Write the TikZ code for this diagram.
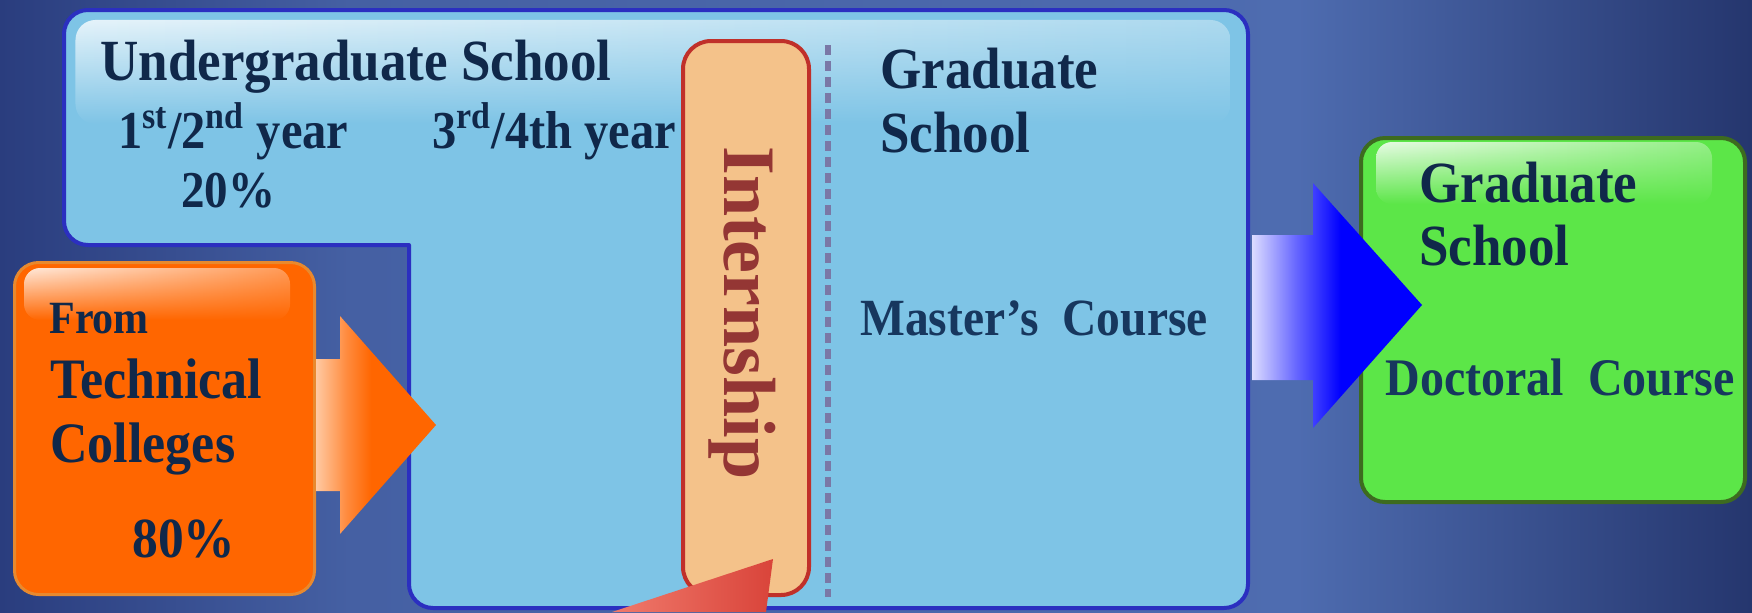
\documentclass[tikz,border=0pt]{standalone}
\usepackage{fontspec}
\setmainfont{Liberation Serif}
\usetikzlibrary{fadings}
\definecolor{bgA}{HTML}{2A3D7E}
\definecolor{bgM}{HTML}{4560A3}
\definecolor{bgB}{HTML}{4E6CB0}
\definecolor{bgD}{HTML}{25366E}
\definecolor{boxblue}{HTML}{7EC4E6}
\definecolor{boxedge}{HTML}{2B2FC0}
\definecolor{navy}{HTML}{10284A}
\definecolor{navyb}{HTML}{17375E}
\definecolor{intfill}{HTML}{F4C28A}
\definecolor{intedge}{HTML}{C0302A}
\definecolor{inttext}{HTML}{943634}
\definecolor{dashcol}{HTML}{7A78A6}
\definecolor{orfill}{HTML}{FF6600}
\definecolor{oredge}{HTML}{E8892E}
\definecolor{orlight}{HTML}{FFC9A2}
\definecolor{ormid}{HTML}{FF8A3C}
\definecolor{grfill}{HTML}{5CE648}
\definecolor{gredge}{HTML}{3D6B1F}
\definecolor{bllight}{HTML}{DCDCFF}
\definecolor{blmid}{HTML}{6666FF}
\definecolor{blfull}{HTML}{0000FF}
\definecolor{redarr}{HTML}{D9443A}
\definecolor{redlight}{HTML}{F07A6C}
\pgfdeclarehorizontalshading{bgshade}{100bp}{color(0bp)=(bgA); color(25bp)=(bgA); color(35bp)=(bgM); color(62bp)=(bgB); color(75bp)=(bgD); color(100bp)=(bgD)}
\pgfdeclarehorizontalshading{orarrow}{100bp}{color(0bp)=(orlight); color(25bp)=(orlight); color(38bp)=(ormid); color(48bp)=(orfill); color(100bp)=(orfill)}
\pgfdeclarehorizontalshading{blarrow}{100bp}{color(0bp)=(bllight); color(25bp)=(bllight); color(38bp)=(blmid); color(51bp)=(blfull); color(100bp)=(blfull)}
\tikzfading[name=glossfade, top color=transparent!0, bottom color=transparent!100]
\newcommand\fsz[1]{\fontsize{#1}{#1}\selectfont\bfseries}
\tikzset{
  txt/.style={anchor=base west, inner sep=0pt, text=navy, yscale=1.1},
  gloss/.style={path fading=glossfade},
  roundbox/.style={inner sep=0pt, rounded corners=12pt},
}
\begin{document}
\begin{tikzpicture}[x=0.5pt,y=-0.5pt]
\useasboundingbox (0,0) rectangle (1752,612);
\shade[shading=bgshade] (0,0) rectangle (1752,612);

% L-shaped blue school block
\filldraw[fill=boxblue, draw=boxedge, line width=2pt, line join=round]
  (409,245) -- (409,584) .. controls (409,597.25) and (419.75,608) .. (433,608)
  -- (1224,608) .. controls (1237.25,608) and (1248,597.25) .. (1248,584)
  -- (1248,34) .. controls (1248,20.75) and (1237.25,10) .. (1224,10)
  -- (88,10) .. controls (74.75,10) and (64,20.75) .. (64,34)
  -- (64,221) .. controls (64,234.25) and (74.75,245) .. (88,245) -- cycle;
\shade[gloss, left color=white, right color=boxblue!55!white, fill opacity=0.8, rounded corners=10pt]
  (76,20) rectangle (1232,124);

% internship
\node[roundbox, draw=intedge, fill=intfill, line width=2pt, rounded corners=14pt,
      minimum width=63pt, minimum height=277pt] (intern) at (746,318) {};
\node[anchor=base west, rotate=-90, inner sep=0pt, text=inttext, font=\fsz{37}]
      (interntxt) at (724,146) {Internship};

% dashed divider
\coordinate (dtop) at (828,45);
\coordinate (dbot) at (828,597);
\draw[dashcol, line width=3pt, dash pattern=on 5pt off 3pt] (dtop) -- (dbot);

% texts in blue block
\node[txt, font=\fsz{26.5}] (ug) at (100,80) {Undergraduate School};
\node[txt, font=\fsz{24.25}] (y12) at (118,148) {1\textsuperscript{st}/2\textsuperscript{nd} year};
\node[txt, font=\fsz{24.25}] (y34) at (432,148) {3\textsuperscript{rd}/4th year};
\node[txt, font=\fsz{23.5}] (p20) at (181,207) {20\%};
\node[txt, font=\fsz{26.5}] (gs1) at (880,88) {Graduate};
\node[txt, font=\fsz{26.5}] (gs2) at (880,152) {School};
\node[txt, text=navyb, font=\fsz{23.75}] (mc) at (860,335) {Master’s\ \ Course};

% orange technical colleges box
\node[roundbox, draw=oredge, fill=orfill, line width=1.5pt,
      minimum width=150pt, minimum height=166pt] (tech) at (164.5,428.5) {};
\shade[gloss, left color=white, right color=orfill!60!white, fill opacity=0.85, rounded corners=8pt]
  (24,268) rectangle (290,320);
\node[txt, font=\fsz{21}] (from) at (49,333) {From};
\node[txt, font=\fsz{26}] (techn) at (50,398) {Technical};
\node[txt, font=\fsz{26}] (coll) at (50,462) {Colleges};
\node[txt, font=\fsz{25.75}] (p80) at (132,557) {80\%};

% green doctoral box
\node[roundbox, draw=gredge, fill=grfill, line width=2pt,
      minimum width=192pt, minimum height=182pt] (doc) at (1553,320) {};
\shade[gloss, left color=white, right color=grfill!60!white, fill opacity=0.85, rounded corners=8pt]
  (1376,142) rectangle (1712,204);
\node[txt, font=\fsz{26.5}] (gg1) at (1419,202) {Graduate};
\node[txt, font=\fsz{26.5}] (gg2) at (1419,265) {School};
\node[txt, text=navyb, font=\fsz{24}] (dc) at (1385,395) {Doctoral\ \ Course};

% block arrows
\shade[shading=orarrow] (316,359) -- (340,359) -- (340,316) -- (436,425)
  -- (340,534) -- (340,491) -- (316,491) -- cycle;
\shade[shading=blarrow] (1252,235) -- (1313,235) -- (1313,183) -- (1422,305)
  -- (1313,428) -- (1313,380) -- (1252,380) -- cycle;
\shade[left color=redlight, right color=redarr] (773,559) -- (612,612) -- (766,612) -- cycle;
\end{tikzpicture}
\end{document}
